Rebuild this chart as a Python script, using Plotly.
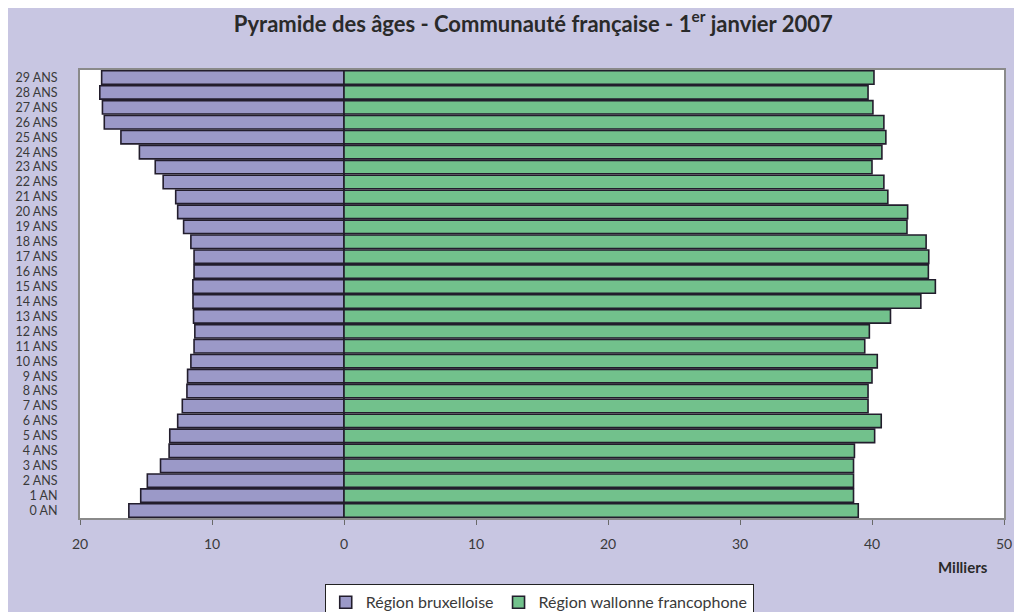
import plotly.graph_objects as go

ages = ["0 AN", "1 AN"] + [f"{i} ANS" for i in range(2, 30)]

# Milliers, ages 0..29
bruxelles = [16.3, 15.4, 14.9, 13.9, 13.25, 13.2, 12.6, 12.25, 11.9, 11.85,
             11.6, 11.36, 11.3, 11.4, 11.44, 11.45, 11.36, 11.36, 11.6, 12.15,
             12.6, 12.75, 13.7, 14.3, 15.5, 16.9, 18.16, 18.3, 18.5, 18.36]
wallonie = [38.96, 38.6, 38.6, 38.6, 38.67, 40.2, 40.7, 39.7, 39.7, 40.0,
            40.4, 39.45, 39.8, 41.4, 43.7, 44.8, 44.27, 44.3, 44.1, 42.65,
            42.7, 41.2, 40.9, 40.0, 40.75, 41.05, 40.9, 40.07, 39.7, 40.15]

tick_vals = [-20, -10, 0, 10, 20, 30, 40, 50]
tick_text = ["20", "10", "0", "10", "20", "30", "40", "50"]

font_family = "Lato, 'Open Sans', sans-serif"
outline = "#221d2c"

fig = go.Figure()
fig.add_trace(go.Bar(
    y=ages, x=[-v for v in bruxelles], orientation="h",
    name="Région bruxelloise",
    marker=dict(color="#9b99c8", line=dict(color=outline, width=1.6)),
    customdata=bruxelles,
    hovertemplate="%{y}: %{customdata} milliers<extra>Région bruxelloise</extra>",
))
fig.add_trace(go.Bar(
    y=ages, x=wallonie, orientation="h",
    name="Région wallonne francophone",
    marker=dict(color="#72c18c", line=dict(color=outline, width=1.6)),
    hovertemplate="%{y}: %{x} milliers<extra>Région wallonne francophone</extra>",
))

fig.update_layout(
    width=1022, height=612,
    margin=dict(l=72, r=26, t=62, b=102, autoexpand=False),
    paper_bgcolor="#c8c6e2",
    plot_bgcolor="#ffffff",
    barmode="relative",
    bargap=0.1,
    font=dict(family=font_family, color="#3a3a3a", size=13),
    title=dict(
        text="<b>Pyramide des âges - Communauté française - 1<sup>er</sup> janvier 2007</b>",
        x=0.514, xanchor="center", y=0.974, yanchor="middle",
        font=dict(size=22, color="#2a2a2a", family=font_family),
    ),
    xaxis=dict(
        range=[-20, 50], tickvals=tick_vals, ticktext=tick_text,
        showgrid=False, zeroline=True, zerolinecolor=outline, zerolinewidth=2,
        showline=True, linecolor="#8a8a8a", linewidth=2, mirror=True,
        ticks="outside", ticklen=5, tickcolor="#6a6a6a",
        tickfont=dict(size=14, color="#3a3a3a"),
        ticklabelstandoff=7,
        automargin=False, fixedrange=True,
    ),
    yaxis=dict(
        tickmode="array", tickvals=ages, ticktext=ages,
        showgrid=False, showline=True, linecolor="#8a8a8a", linewidth=2, mirror=True,
        ticks="", tickfont=dict(size=12.5, color="#3a3a3a"),
        ticklabelstandoff=18,
        automargin=False, fixedrange=True,
    ),
    legend=dict(
        orientation="h", x=0.497, xanchor="center", y=-0.148, yanchor="top",
        bgcolor="#ffffff", bordercolor="#222222", borderwidth=1,
        font=dict(size=16, color="#3a3a3a"),
        traceorder="normal", itemwidth=30,
    ),
    annotations=[dict(
        text="<b>Milliers</b>", xref="paper", yref="paper",
        x=0.985, y=-0.109, xanchor="right", yanchor="middle", showarrow=False,
        font=dict(size=15, color="#2a2a2a", family=font_family),
    )],
)

fig.write_html("out.html")
